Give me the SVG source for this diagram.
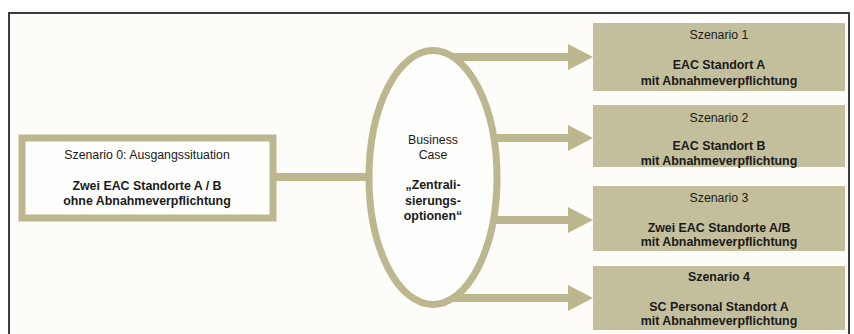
<svg xmlns="http://www.w3.org/2000/svg" width="854" height="334" viewBox="0 0 854 334">
  <defs>
    <style>
      .frame { fill: #fdfcf9; stroke: #3c3c3c; stroke-width: 2; }
      .outline { fill: #fefefc; stroke: #bcb78f; stroke-width: 7; }
      .scen { fill: #c3be9b; }
      .wire { fill: none; stroke: #bcb78f; stroke-width: 8; }
      .head { fill: #bcb78f; }
      text { font-family: "Liberation Sans", Arial, sans-serif; fill: #1a1a1a; text-anchor: middle; }
      .reg { font-size: 12.3px; }
      .bold { font-size: 12.4px; font-weight: bold; }
    </style>
  </defs>

  <rect width="854" height="334" fill="#ffffff"/>
  <rect class="frame" x="9" y="13" width="840" height="330"/>

  <g id="connectors">
    <line class="wire" x1="276" y1="177" x2="372" y2="177"/>
    <line class="wire" x1="445" y1="57" x2="570" y2="57"/>
    <polygon class="head" points="568,44 593,57 568,70"/>
    <line class="wire" x1="490" y1="138" x2="570" y2="138"/>
    <polygon class="head" points="568,125 593,138 568,151"/>
    <line class="wire" x1="490" y1="220" x2="570" y2="220"/>
    <polygon class="head" points="568,207 593,220 568,233"/>
    <line class="wire" x1="445" y1="298" x2="570" y2="298"/>
    <polygon class="head" points="568,285 593,298 568,311"/>
  </g>

  <g id="szenario0">
    <rect class="outline" x="22" y="138" width="251" height="80" stroke-width="8"/>
    <text class="reg" x="147" y="159">Szenario 0: Ausgangssituation</text>
    <text class="bold" x="147" y="190">Zwei EAC Standorte A / B</text>
    <text class="bold" x="147" y="204.5">ohne Abnahmeverpflichtung</text>
  </g>

  <g id="business-case">
    <ellipse class="outline" cx="433" cy="177.5" rx="64" ry="127"/>
    <text class="reg" x="433" y="144">Business</text>
    <text class="reg" x="433" y="159">Case</text>
    <text class="bold" x="433" y="189">„Zentrali-</text>
    <text class="bold" x="433" y="205">sierungs-</text>
    <text class="bold" x="433" y="220">optionen“</text>
  </g>

  <g id="szenario1">
    <rect class="scen" x="593" y="23" width="252" height="68"/>
    <text class="reg" x="719" y="39">Szenario 1</text>
    <text class="bold" x="719" y="69">EAC Standort A</text>
    <text class="bold" x="719" y="84.5">mit Abnahmeverpflichtung</text>
  </g>

  <g id="szenario2">
    <rect class="scen" x="593" y="105" width="252" height="62"/>
    <text class="reg" x="719" y="122">Szenario 2</text>
    <text class="bold" x="719" y="150">EAC Standort B</text>
    <text class="bold" x="719" y="164.5">mit Abnahmeverpflichtung</text>
  </g>

  <g id="szenario3">
    <rect class="scen" x="593" y="186" width="252" height="65"/>
    <text class="reg" x="719" y="202">Szenario 3</text>
    <text class="bold" x="719" y="232">Zwei EAC Standorte A/B</text>
    <text class="bold" x="719" y="246">mit Abnahmeverpflichtung</text>
  </g>

  <g id="szenario4">
    <rect class="scen" x="593" y="266" width="252" height="64"/>
    <text class="bold" x="719" y="281">Szenario 4</text>
    <text class="bold" x="719" y="311">SC Personal Standort A</text>
    <text class="bold" x="719" y="325">mit Abnahmeverpflichtung</text>
  </g>
</svg>
